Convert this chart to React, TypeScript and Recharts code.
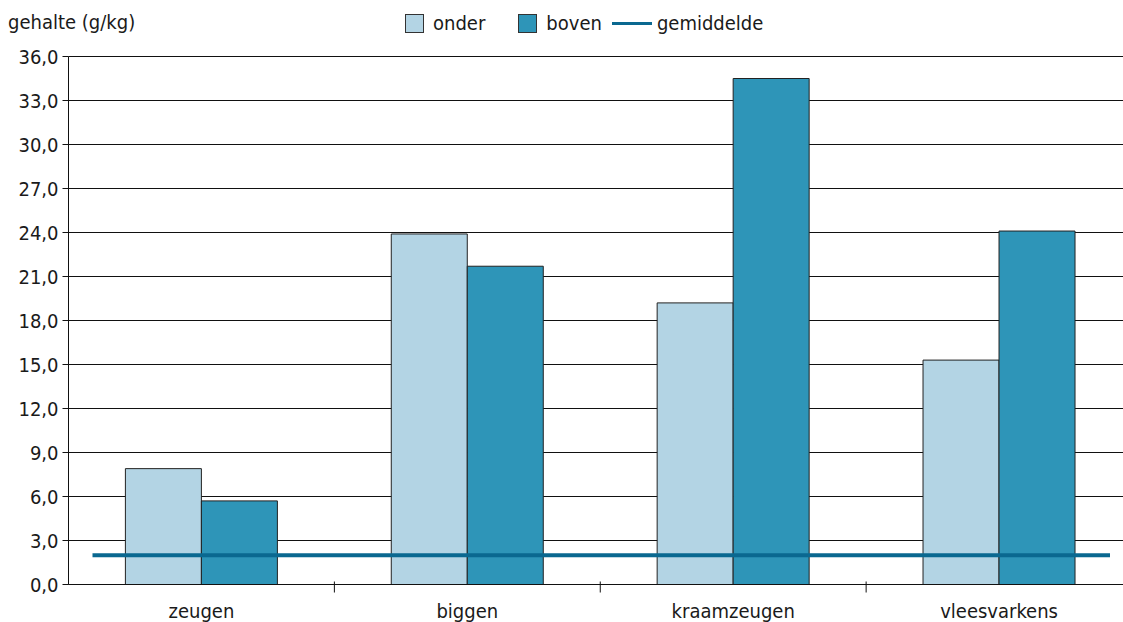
import { BarChart, Bar, XAxis, YAxis, CartesianGrid, ReferenceLine } from 'recharts'

const categories = ['zeugen', 'biggen', 'kraamzeugen', 'vleesvarkens']
const onder = [7.9, 23.9, 19.2, 15.3]
const boven = [5.7, 21.7, 34.5, 24.1]
const gemiddelde = 2.0
const yTicks = [0, 3, 6, 9, 12, 15, 18, 21, 24, 27, 30, 33, 36]

const data = categories.map((category, i) => ({ category, onder: onder[i], boven: boven[i] }))

const W = 1123
const H = 622
const Y_AXIS_W = 68
const MARGIN = { top: 56.5, right: -9, bottom: 0, left: 0.5 }
const BAND = (W - Y_AXIS_W - MARGIN.left - MARGIN.right) / categories.length

const FONT = '"DejaVu Sans Condensed", "DejaVu Sans", sans-serif'
const TEXT = '#1a1a1a'
const AXIS = '#111'
const LIGHT = '#b3d4e4'
const DARK = '#2e95b8'
const LINE = '#0a6890'

const formatTick = (v: number) => v.toFixed(1).replace('.', ',')

const XTick = (props: any) => {
  const { x, y, payload, index } = props
  return (
    <g>
      {index > 0 && (
        <line x1={x - BAND / 2} x2={x - BAND / 2} y1={y - 5} y2={y + 6} stroke={AXIS} />
      )}
      <text x={x} y={y + 31} textAnchor="middle" fill={TEXT} fontSize={20} fontFamily={FONT}>
        {payload.value}
      </text>
    </g>
  )
}

// the average line stops a little short of both plot edges
const AvgLine = (props: any) => (
  <line x1={props.x1 + 24} x2={props.x2 - 22} y1={props.y1} y2={props.y2} stroke={LINE} strokeWidth={4} />
)

const Legend = () => (
  <div
    style={{
      position: 'absolute',
      left: 405,
      top: 12,
      display: 'flex',
      alignItems: 'center',
      fontSize: 20,
      lineHeight: '22px',
      color: TEXT,
    }}
  >
    <span style={{ width: 17, height: 17, background: LIGHT, border: '1px solid #333', display: 'inline-block' }} />
    <span style={{ marginLeft: 9, marginRight: 33 }}>onder</span>
    <span style={{ width: 17, height: 17, background: DARK, border: '1px solid #333', display: 'inline-block' }} />
    <span style={{ marginLeft: 9, marginRight: 10 }}>boven</span>
    <span style={{ width: 40, height: 3, background: LINE, display: 'inline-block' }} />
    <span style={{ marginLeft: 5 }}>gemiddelde</span>
  </div>
)

export default function App() {
  return (
    <div style={{ position: 'absolute', left: 0, top: 0, width: W, height: H, fontFamily: FONT, background: '#fff', overflow: 'hidden' }}>
      <div style={{ position: 'absolute', left: 8, top: 11, fontSize: 20, color: TEXT, lineHeight: '22px' }}>
        gehalte (g/kg)
      </div>
      <Legend />
      <BarChart width={W} height={H} data={data} margin={MARGIN} barGap={0} barCategoryGap="21.4%">
        <CartesianGrid vertical={false} stroke={AXIS} strokeOpacity={1} />
        <XAxis
          dataKey="category"
          height={37.5}
          axisLine={{ stroke: AXIS }}
          tickLine={false}
          tickSize={0}
          tick={<XTick />}
          interval={0}
        />
        <YAxis
          width={Y_AXIS_W}
          domain={[0, 36]}
          ticks={yTicks}
          tickFormatter={formatTick}
          axisLine={{ stroke: AXIS }}
          tickLine={{ stroke: AXIS }}
          tickSize={6}
          tickMargin={4}
          tick={{ fill: TEXT, fontSize: 20, fontFamily: FONT }}
          interval={0}
        />
        <Bar dataKey="onder" fill={LIGHT} stroke="#222" strokeWidth={1} isAnimationActive={false} />
        <Bar dataKey="boven" fill={DARK} stroke="#222" strokeWidth={1} isAnimationActive={false} />
        <ReferenceLine y={gemiddelde} stroke={LINE} strokeWidth={4} shape={AvgLine} />
      </BarChart>
    </div>
  )
}
